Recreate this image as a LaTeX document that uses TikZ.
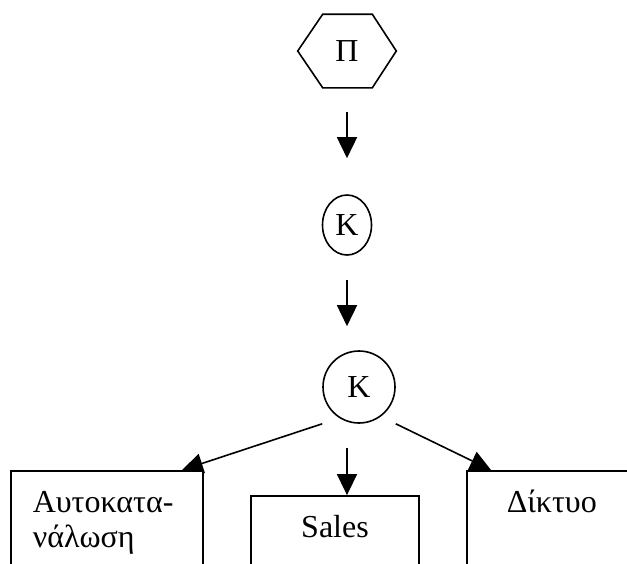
\documentclass[tikz,border=0pt]{standalone}
\usepackage{fontspec}
\setmainfont{Liberation Serif}
\usetikzlibrary{arrows.meta,shapes.geometric,backgrounds}
\begin{document}
\begin{tikzpicture}[x=1pt,y=-1pt,
  line width=1.6pt,
  lbl/.style={font=\fontsize{32}{36}\selectfont, inner sep=0pt},
  arr/.style={-{Triangle[length=21pt,width=20pt]}, line width=1.6pt},
  boxed/.style={draw, fill=white, line width=1.8pt, inner sep=0pt},
  knode/.style={draw, inner sep=0pt, font=\fontsize{32}{36}\selectfont, line width=1.6pt}]
\useasboundingbox (0,0) rectangle (627,563);
\clip (0,0) rectangle (627,563);

% hexagon
\node[lbl, minimum width=97pt, minimum height=72pt] (hex) at (347,51) {Π};
\draw (hex.west) -- ([xshift=25pt]hex.north west) -- ([xshift=-24pt]hex.north east)
  -- (hex.east) -- ([xshift=-24pt]hex.south east) -- ([xshift=25pt]hex.south west) -- cycle;

% K nodes
\node[knode, ellipse, minimum width=49pt, minimum height=60pt] (k1) at (347,225) {K};
\node[knode, circle, minimum size=72pt] (k2) at (359,387) {K};

% boxes (open at the bottom of the picture)
\node[boxed, minimum width=192pt, minimum height=140pt] (lbox) at (107,541) {};
\node[boxed, minimum width=168pt, minimum height=120pt] (sales) at (335,556) {};
\node[boxed, minimum width=200pt, minimum height=140pt] (rbox) at (567,541) {};

% texts
\node[lbl, anchor=base west] (t1) at (32,512) {Αυτοκατα-};
\node[lbl, anchor=base west] (t2) at (32,547) {νάλωση};
\node[lbl, anchor=base] (t3) at (335,537) {Sales};
\node[lbl, anchor=base west] (t4) at (506,512) {Δίκτυο};

% connectors
\draw[arr] ([yshift=-24pt]hex.south) -- ([yshift=36pt]k1.north);
\draw[arr] ([yshift=-24pt]k1.south) -- ([yshift=24pt]k1.south |- k2.north);
\begin{pgfonlayer}{background}
\draw[arr] (k2.west |- k2.south) -- ([xshift=-22pt]lbox.north east);
\draw[arr] ([xshift=-12pt,yshift=-24pt]k2.south) -- ([xshift=12pt]sales.north);
\draw[arr] (k2.east |- k2.south) -- ([xshift=25pt]rbox.north west);
\end{pgfonlayer}
\end{tikzpicture}
\end{document}
